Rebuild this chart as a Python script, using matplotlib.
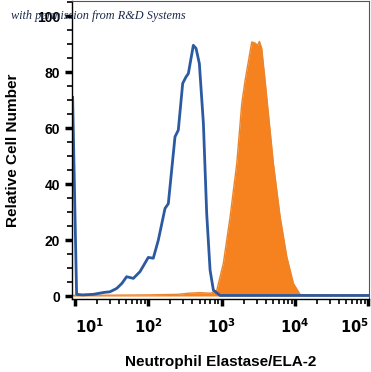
import numpy as np
import matplotlib.pyplot as plt
from matplotlib.ticker import LogLocator, FixedLocator, MultipleLocator

plt.rcParams['font.family'] = ['Liberation Sans', 'DejaVu Sans']

# 同型对照（蓝线）: log10(荧光强度) 与 相对细胞数
iso_log = [0.969, 1.023, 1.10, 1.25, 1.40, 1.477, 1.569, 1.64, 1.705, 1.796, 1.887,
           2.0, 2.068, 2.137, 2.228, 2.273, 2.364, 2.409, 2.469, 2.514, 2.546,
           2.614, 2.651, 2.696, 2.751, 2.796, 2.842, 2.887, 2.978, 3.5, 4.5, 5.01]
iso_val = [71, 0.6, 0.4, 0.6, 1.3, 1.5, 2.7, 4.5, 6.9, 6.3, 8.7,
           13.8, 13.5, 20, 31.3, 33, 56.9, 59.3, 76, 78.3, 79.5,
           89.6, 88.5, 83.1, 61.7, 29.5, 9.3, 2.1, 0.2, 0.2, 0.2, 0.2]

# 中性粒细胞弹性蛋白酶染色（橙色填充）
ela_log = [0.969, 1.5, 2.0, 2.4, 2.55, 2.7, 2.85, 2.933, 3.023, 3.115, 3.206,
           3.274, 3.319, 3.365, 3.41, 3.456, 3.487, 3.515, 3.546, 3.592, 3.637,
           3.705, 3.797, 3.888, 3.978, 4.07, 4.5, 5.01]
ela_val = [0.2, 0.3, 0.4, 0.6, 1.0, 1.2, 1.0, 2.0, 11.7, 28.3, 47.4,
           68.8, 77, 84, 90.8, 90.4, 89.6, 91, 88.5, 77, 65.2,
           47.4, 28.3, 14, 4.5, 0.5, 0.2, 0.2]

x_major = [1e1, 1e2, 1e3, 1e4, 1e5]
x_labels = ['$\\mathbf{10^{1}}$', '$\\mathbf{10^{2}}$', '$\\mathbf{10^{3}}$',
            '$\\mathbf{10^{4}}$', '$\\mathbf{10^{5}}$']
y_major = [0, 20, 40, 60, 80, 100]

fig = plt.figure(figsize=(3.71, 3.72), dpi=100)
ax = fig.add_axes([0.194, 0.196, 0.801, 0.801])

ela_x = 10 ** np.array(ela_log)
iso_x = 10 ** np.array(iso_log)
ax.fill_between(ela_x, 0, ela_val, color='#F5821F', linewidth=0)
ax.plot(ela_x, ela_val, color='#E9852F', linewidth=1.0)
ax.plot(iso_x, iso_val, color='#2C5AA0', linewidth=2.0, solid_joinstyle='round')

ax.set_xscale('log')
ax.set_xlim(10 ** 0.96, 10 ** 5.01)
ax.set_ylim(-1.1, 105.4)

ax.xaxis.set_major_locator(FixedLocator(x_major))
ax.set_xticklabels(x_labels)
ax.xaxis.set_minor_locator(LogLocator(base=10, subs=np.arange(2, 10), numticks=20))
ax.yaxis.set_major_locator(FixedLocator(y_major))
ax.yaxis.set_minor_locator(MultipleLocator(5))

ax.tick_params(axis='both', which='major', length=5, width=2.5, color='black',
               direction='out', labelsize=10)
ax.tick_params(axis='both', which='minor', length=3.5, width=1.2, color='black',
               direction='out')
ax.tick_params(axis='x', which='major', labelsize=10.5, pad=8)
for lab in ax.get_yticklabels():
    lab.set_fontweight('bold')
xt = ax.get_xticklabels()
xt[0].set_horizontalalignment('left')
xt[-1].set_horizontalalignment('right')

for s in ['top', 'right']:
    ax.spines[s].set_color('#555555')
    ax.spines[s].set_linewidth(0.8)
for s in ['left', 'bottom']:
    ax.spines[s].set_linewidth(1.0)

ax.set_ylabel('Relative Cell Number', fontsize=11, fontweight='bold', labelpad=12)
ax.set_xlabel('Neutrophil Elastase/ELA-2', fontsize=11, fontweight='bold', labelpad=14)

fig.text(0.03, 0.957, 'with permission from R&D Systems', fontsize=8.8, style='italic',
         family=['Liberation Serif', 'DejaVu Serif'], color='#1B2A4A', ha='left', va='center')

plt.savefig('out.png', dpi=100)
